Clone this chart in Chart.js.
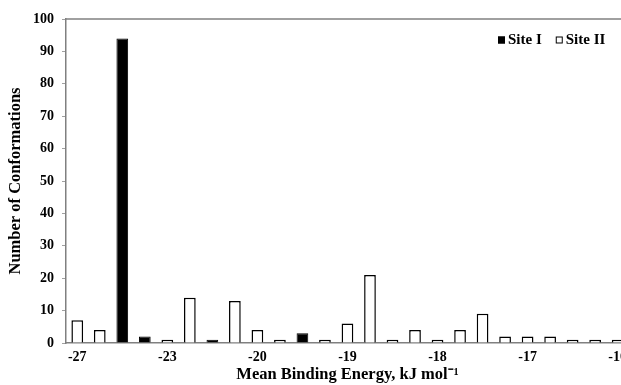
<!DOCTYPE html>
<html>
<head>
<meta charset="utf-8">
<script src="https://cdn.jsdelivr.net/npm/chart.js@4"></script>
<style>
  html, body { margin: 0; padding: 0; background: #fff; overflow: hidden; }
  #wrap { position: relative; width: 633px; height: 385px; }
</style>
</head>
<body>
<div id="wrap"><canvas id="barCanvas"></canvas></div>
<script>
const categories = ["-27", "", "", "", "-23", "", "", "", "-20", "", "", "", "-19", "", "", "", "-18", "", "", "", "-17", "", "", "", "-16"];
const siteI = [null, null, 94, 2, null, null, 1, null, null, null, 3, null, null, null, null, null, null, null, null, null, null, null, null, null, null];
const siteII = [7, 4, null, null, 1, 14, null, 13, 4, 1, null, 1, 6, 21, 1, 4, 1, 4, 9, 2, 2, 2, 1, 1, 1];
const yTicks = [0, 10, 20, 30, 40, 50, 60, 70, 80, 90, 100];

const serif = "'Liberation Serif', 'Times New Roman', serif";

// top frame line + legend drawn inside the plot
const framePlugin = {
    id: "frame",
    afterDraw(chart) {
        const ctx = chart.ctx;
        const area = chart.chartArea;
        ctx.save();
        ctx.strokeStyle = "#808080";
        ctx.lineWidth = 1.5;
        ctx.beginPath();
        ctx.moveTo(area.left, area.top);
        ctx.lineTo(area.right + 5, area.top);
        ctx.stroke();

        ctx.font = "bold 15px " + serif;
        ctx.textBaseline = "middle";
        let x = 498;
        const y = 40;
        chart.data.datasets.forEach(ds => {
            ctx.fillStyle = ds.backgroundColor;
            ctx.fillRect(x, y - 3.5, 7, 7);
            ctx.strokeStyle = "#000";
            ctx.lineWidth = 1;
            ctx.strokeRect(x + 0.5, y - 3, 6, 6);
            ctx.fillStyle = "#000";
            ctx.fillText(ds.label, x + 10, y);
            x += 10 + ctx.measureText(ds.label).width + 14;
        });
        ctx.restore();
    }
};

const barCanvas = document.querySelector("#barCanvas");

const barChart = new Chart(barCanvas, {
    type: "bar",
    data: {
        labels: categories,
        datasets: [{
            label: "Site I",
            data: siteI,
            backgroundColor: "#000000",
            borderColor: "#000000",
            borderWidth: 1
        }, {
            label: "Site II",
            data: siteII,
            backgroundColor: "#ffffff",
            borderColor: "#000000",
            borderWidth: 1.5
        }]
    },
    options: {
        responsive: true,
        maintainAspectRatio: false,
        animation: false,
        layout: {
            padding: { left: 0, right: 0, top: 19, bottom: 0 }
        },
        datasets: {
            bar: {
                grouped: false,
                barPercentage: 0.52,
                categoryPercentage: 1
            }
        },
        plugins: {
            legend: { display: false },
            tooltip: { enabled: false }
        },
        scales: {
            x: {
                offset: true,
                grid: { display: false, drawTicks: false },
                border: { color: "#808080", width: 1.5 },
                ticks: {
                    autoSkip: false,
                    maxRotation: 0,
                    padding: 6,
                    color: "#000",
                    font: { family: serif, size: 14, weight: "bold" }
                },
                title: {
                    display: true,
                    text: "Mean Binding Energy, kJ mol\u207B\u00B9",
                    color: "#000",
                    padding: { top: 3, bottom: 0 },
                    font: { family: serif, size: 16.5, weight: "bold" }
                },
                afterFit(scale) { scale.height = 42; }
            },
            y: {
                min: 0,
                max: 100,
                afterBuildTicks(scale) { scale.ticks = yTicks.map(v => ({ value: v })); },
                grid: {
                    drawOnChartArea: false,
                    drawTicks: true,
                    tickLength: 4,
                    color: "#a0a0a0"
                },
                border: { color: "#808080", width: 1.5 },
                ticks: {
                    padding: 8,
                    color: "#000",
                    font: { family: serif, size: 14, weight: "bold" }
                },
                title: {
                    display: true,
                    text: "Number of Conformations",
                    color: "#000",
                    padding: { top: 6, bottom: 0 },
                    font: { family: serif, size: 16.5, weight: "bold" }
                },
                afterFit(scale) { scale.width = 66; }
            }
        }
    },
    plugins: [framePlugin]
});
</script>
</body>
</html>
